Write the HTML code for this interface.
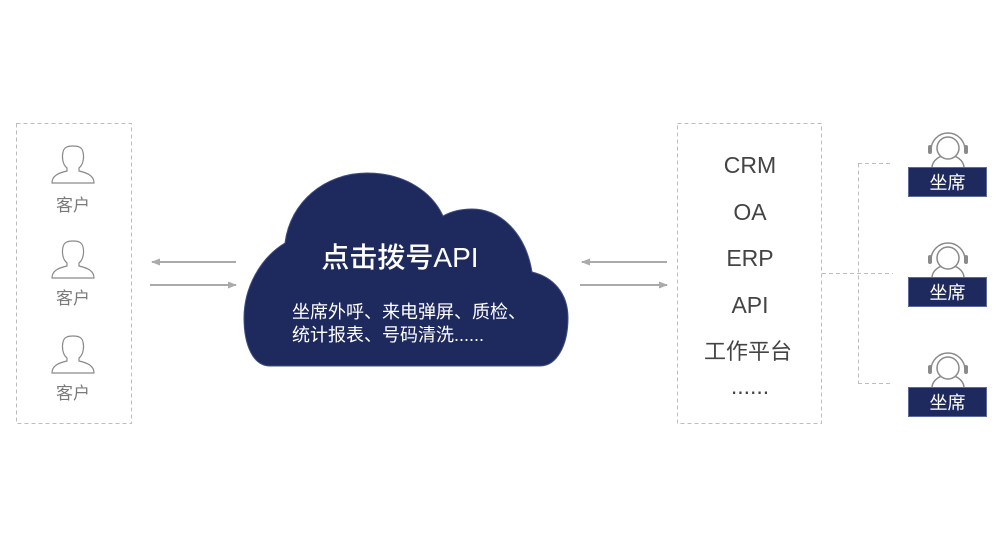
<!DOCTYPE html>
<html>
<head>
<meta charset="utf-8">
<style>
  html, body { margin: 0; padding: 0; background: #ffffff; }
  body { width: 1000px; height: 560px; overflow: hidden; }
  svg { display: block; }
</style>
</head>
<body>
<svg width="1000" height="560" viewBox="0 0 1000 560" xmlns="http://www.w3.org/2000/svg">
  <defs>
    <marker id="ah" markerWidth="10" markerHeight="10" refX="8" refY="5" orient="auto" markerUnits="userSpaceOnUse">
      <path d="M0,1.5 L9,5 L0,8.5 Z" fill="#aaaaaa"/>
    </marker>
  </defs>

  <!-- Left dashed box -->
  <rect x="16.5" y="123.5" width="115" height="300" fill="none" stroke="#bdbdbd" stroke-width="1" stroke-dasharray="4,3"/>

  <!-- Person icons -->
  <g fill="none" stroke="#8a8a8a" stroke-width="1.2">
    <path d="M67 168 C62 164 62 156 63 152 C64 147 68 146 73 146 C78 146 82 147 83 152 C84 156 84 164 79 168 L79 171 C88 173 94 176 94 183 L52 183 C52 176 58 173 67 171 Z"/>
    <path transform="translate(0,95)" d="M67 168 C62 164 62 156 63 152 C64 147 68 146 73 146 C78 146 82 147 83 152 C84 156 84 164 79 168 L79 171 C88 173 94 176 94 183 L52 183 C52 176 58 173 67 171 Z"/>
    <path transform="translate(0,190)" d="M67 168 C62 164 62 156 63 152 C64 147 68 146 73 146 C78 146 82 147 83 152 C84 156 84 164 79 168 L79 171 C88 173 94 176 94 183 L52 183 C52 176 58 173 67 171 Z"/>
  </g>
  <g font-family="'Liberation Sans','Noto Sans CJK SC',sans-serif" font-size="17" fill="#7a7a7a" text-anchor="middle">
    <text x="73" y="211">客户</text>
    <text x="73" y="304">客户</text>
    <text x="73" y="399">客户</text>
  </g>

  <!-- Left arrows -->
  <line x1="236" y1="262" x2="152" y2="262" stroke="#aaaaaa" stroke-width="2" marker-end="url(#ah)"/>
  <line x1="150" y1="285" x2="236" y2="285" stroke="#aaaaaa" stroke-width="2" marker-end="url(#ah)"/>

  <!-- Cloud -->
  <path d="M270 366 C253 366 244 345 244 318 C244 288 260 258 285 243 C290 202 325 173 367 173 C405 173 432 192 443 216 C452 211 462 209 472 209 C502 209 526 235 532 272 C553 277 568 293 568 318 C568 345 557 366 540 366 Z"
        fill="#1e2a5e" stroke="#3f4e82" stroke-width="1"/>
  <text x="400" y="267" text-anchor="middle" fill="#ffffff" font-size="28" font-weight="500" font-family="'Liberation Sans','Noto Sans CJK SC',sans-serif">点击拨号API</text>
  <g font-family="'Liberation Sans','Noto Sans CJK SC',sans-serif" font-size="18" fill="#ffffff">
    <text x="292" y="318">坐席外呼、来电弹屏、质检、</text>
    <text x="292" y="341">统计报表、号码清洗......</text>
  </g>

  <!-- Right arrows -->
  <line x1="667" y1="262" x2="582" y2="262" stroke="#aaaaaa" stroke-width="2" marker-end="url(#ah)"/>
  <line x1="580" y1="285" x2="667" y2="285" stroke="#aaaaaa" stroke-width="2" marker-end="url(#ah)"/>

  <!-- Right dashed box -->
  <rect x="677.5" y="123.5" width="144" height="300" fill="none" stroke="#bdbdbd" stroke-width="1" stroke-dasharray="4,3"/>
  <g font-family="'Liberation Sans','Noto Sans CJK SC',sans-serif" font-size="23" fill="#444444" text-anchor="middle">
    <text x="750" y="173">CRM</text>
    <text x="750" y="220">OA</text>
    <text x="750" y="266">ERP</text>
    <text x="750" y="313">API</text>
    <text x="748" y="359" font-size="22">工作平台</text>
    <text x="750" y="394">......</text>
  </g>

  <!-- Dashed connector -->
  <g stroke="#bdbdbd" stroke-width="1" stroke-dasharray="4,3" fill="none">
    <line x1="858.5" y1="163.5" x2="858.5" y2="383.5"/>
    <line x1="858" y1="163.5" x2="893" y2="163.5"/>
    <line x1="822" y1="273.5" x2="893" y2="273.5"/>
    <line x1="858" y1="383.5" x2="893" y2="383.5"/>
  </g>

  <!-- Agents -->
  <g>
    <path d="M932 168 A16 13 0 0 1 964 168" fill="none" stroke="#8a8a8a" stroke-width="1.5"/>
    <circle cx="948" cy="148" r="11" fill="#ffffff" stroke="#8a8a8a" stroke-width="1.5"/>
    <path d="M931 150 A17 17 0 0 1 965 150" fill="none" stroke="#8a8a8a" stroke-width="1.5"/>
    <rect x="928" y="145" width="4" height="9" rx="2" fill="#8a8a8a"/>
    <rect x="964" y="145" width="4" height="9" rx="2" fill="#8a8a8a"/>
    <rect x="908.5" y="167.5" width="78" height="29" fill="#1e2a5e" stroke="#5b6a9a" stroke-width="1"/>
    <text x="947.5" y="189" text-anchor="middle" fill="#ffffff" font-size="18" font-family="'Liberation Sans','Noto Sans CJK SC',sans-serif">坐席</text>
  </g>
  <g transform="translate(0,110)">
    <path d="M932 168 A16 13 0 0 1 964 168" fill="none" stroke="#8a8a8a" stroke-width="1.5"/>
    <circle cx="948" cy="148" r="11" fill="#ffffff" stroke="#8a8a8a" stroke-width="1.5"/>
    <path d="M931 150 A17 17 0 0 1 965 150" fill="none" stroke="#8a8a8a" stroke-width="1.5"/>
    <rect x="928" y="145" width="4" height="9" rx="2" fill="#8a8a8a"/>
    <rect x="964" y="145" width="4" height="9" rx="2" fill="#8a8a8a"/>
    <rect x="908.5" y="167.5" width="78" height="29" fill="#1e2a5e" stroke="#5b6a9a" stroke-width="1"/>
    <text x="947.5" y="189" text-anchor="middle" fill="#ffffff" font-size="18" font-family="'Liberation Sans','Noto Sans CJK SC',sans-serif">坐席</text>
  </g>
  <g transform="translate(0,220)">
    <path d="M932 168 A16 13 0 0 1 964 168" fill="none" stroke="#8a8a8a" stroke-width="1.5"/>
    <circle cx="948" cy="148" r="11" fill="#ffffff" stroke="#8a8a8a" stroke-width="1.5"/>
    <path d="M931 150 A17 17 0 0 1 965 150" fill="none" stroke="#8a8a8a" stroke-width="1.5"/>
    <rect x="928" y="145" width="4" height="9" rx="2" fill="#8a8a8a"/>
    <rect x="964" y="145" width="4" height="9" rx="2" fill="#8a8a8a"/>
    <rect x="908.5" y="167.5" width="78" height="29" fill="#1e2a5e" stroke="#5b6a9a" stroke-width="1"/>
    <text x="947.5" y="189" text-anchor="middle" fill="#ffffff" font-size="18" font-family="'Liberation Sans','Noto Sans CJK SC',sans-serif">坐席</text>
  </g>
</svg>
</body>
</html>
